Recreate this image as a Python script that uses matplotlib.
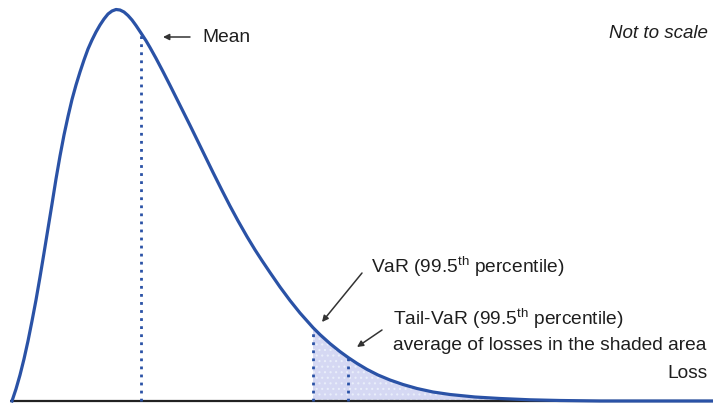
import numpy as np
import matplotlib
matplotlib.use("Agg")
import matplotlib.pyplot as plt

plt.rcParams['font.family'] = ['Liberation Sans', 'DejaVu Sans']
plt.rcParams['mathtext.fontset'] = 'custom'
plt.rcParams['mathtext.rm'] = 'Liberation Sans'
plt.rcParams['mathtext.it'] = 'Liberation Sans:italic'
plt.rcParams['hatch.color'] = '#e9eefa'
plt.rcParams['hatch.linewidth'] = 0.8

# Loss-distribution curve (loss, density), arbitrary units
loss = [12, 16, 20, 24, 28, 32, 36, 40, 44, 48, 52, 56, 60, 64, 68, 72, 76, 80,
        84, 88, 92, 96, 100, 104, 108, 112, 116, 120, 124, 128, 132, 136, 141,
        146, 150, 156, 163, 170, 180, 190, 197, 205, 213, 222, 230, 238, 247,
        255, 262, 270, 280, 290, 300, 313, 320, 330, 340, 348, 357, 367, 378,
        390, 403, 417, 433, 450, 475, 500, 530, 560, 600, 713]
density = [0, 12, 26, 42, 60, 80, 101, 124, 148, 172.5, 197, 222, 245, 266,
           284.5, 301.5, 316, 329, 341, 352, 361, 369, 376, 382, 387, 390,
           391.5, 391, 389, 385.5, 381, 375.5, 368, 360.3, 353.5, 342.7, 329.4,
           315.7, 295.7, 275.7, 261.4, 245, 228.6, 210.6, 195, 180.2, 164.4,
           151.2, 140.4, 128.5, 114, 100.5, 88, 73.4, 66.4, 57.4, 49.4, 43.6,
           37.6, 31.6, 26, 21, 16.5, 12.5, 9, 6.5, 4, 2.5, 1.2, 0.5, 0, 0]

mean_loss = 141
var_loss = 313
tvar_loss = 348

labels = {
    'mean': 'Mean',
    'scale': 'Not to scale',
    'var': 'VaR (99.5$^{\\rm th}$ percentile)',
    'tvar1': 'Tail-VaR (99.5$^{\\rm th}$ percentile)',
    'tvar2': 'average of losses in the shaded area',
    'xlabel': 'Loss',
}

loss_a = np.array(loss, dtype=float)
dens_a = np.array(density, dtype=float)

fig = plt.figure(figsize=(7.13, 4.03), dpi=100)
ax = fig.add_axes([0, 0, 1, 1])
ax.set_xlim(0, 713)
ax.set_ylim(-2, 401)
ax.axis('off')

blue = '#2a52a6'

# shaded tail
mask = loss_a >= var_loss
ax.fill_between(loss_a[mask], 0, dens_a[mask], facecolor='#d5d8f3',
                edgecolor='none', hatch='...', lw=0, zorder=1)

# baseline
ax.plot([10, 713], [0, 0], color='#222222', lw=1.6, zorder=2, solid_capstyle='butt')

# curve
ax.plot(loss_a, dens_a, color=blue, lw=2.3, zorder=4, solid_joinstyle='round')

# dotted verticals
for xv in (mean_loss, var_loss, tvar_loss):
    top = np.interp(xv, loss_a, dens_a)
    ax.plot([xv, xv], [0, top], color=blue, lw=2.0, linestyle=(0, (1.0, 1.9)),
            zorder=3)

fs = 13.8
tc = '#1e1e1e'
arrow = dict(arrowstyle='-|>', color='#333333', lw=1.1, mutation_scale=9,
             shrinkA=0, shrinkB=0)

ax.text(202, 364, labels['mean'], fontsize=fs, va='center', ha='left', color=tc)
ax.annotate('', xy=(163, 364), xytext=(190, 364), arrowprops=arrow)

ax.text(708, 368, labels['scale'], fontsize=fs - 0.3, style='italic', va='center',
        ha='right', color=tc)

ax.text(371, 134, labels['var'], fontsize=fs, va='center', ha='left', color=tc)
ax.annotate('', xy=(322, 79), xytext=(362, 128), arrowprops=arrow)

ax.text(393, 82, labels['tvar1'], fontsize=fs, va='center', ha='left', color=tc)
ax.text(393, 56, labels['tvar2'], fontsize=fs, va='center', ha='left', color=tc)
ax.annotate('', xy=(357, 54), xytext=(382, 71), arrowprops=arrow)

ax.text(708, 27, labels['xlabel'], fontsize=fs, va='center', ha='right', color=tc)

fig.savefig('out.png', dpi=100, facecolor='white')
